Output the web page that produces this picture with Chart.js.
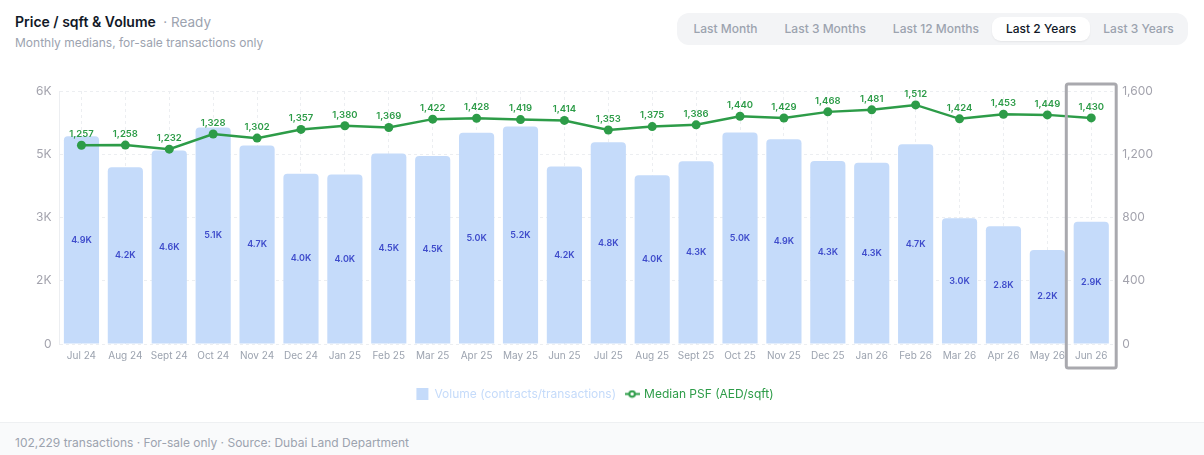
<!DOCTYPE html>
<html>
<head>
<meta charset="utf-8">
<title>Price / sqft & Volume</title>
<script src="https://cdn.jsdelivr.net/npm/chart.js@4.4.1/dist/chart.umd.min.js"></script>
<style>
  body {
    margin: 0;
    width: 1204px;
    height: 455px;
    position: relative;
    overflow: hidden;
    background: #fff;
    font-family: Inter, "Noto Sans", sans-serif;
  }
  .title {
    position: absolute;
    left: 15px;
    top: 13px;
    font-size: 14px;
    font-weight: 600;
    color: #111827;
  }
  .title span {
    font-weight: 400;
    font-size: 13.5px;
    color: #9ca3af;
    margin-left: 4px;
  }
  .subtitle {
    position: absolute;
    left: 15px;
    top: 35px;
    font-size: 12px;
    color: #9ca3af;
  }
  .tabs {
    position: absolute;
    left: 677px;
    top: 13px;
    height: 32px;
    width: 511px;
    box-sizing: border-box;
    padding: 4px 3px;
    display: flex;
    background: #f3f4f6;
    border-radius: 12px;
  }
  .tab {
    padding: 0 13.5px;
    line-height: 24px;
    font-size: 12px;
    font-weight: 500;
    color: #9ca3af;
    white-space: nowrap;
    border-radius: 9px;
  }
  .tab.active {
    background: #fff;
    color: #111827;
    box-shadow: 0 1px 2px rgba(0, 0, 0, 0.06);
  }
  .chart-box {
    position: absolute;
    left: 0;
    top: 70px;
    width: 1204px;
    height: 345px;
  }
  .footer {
    position: absolute;
    left: 0;
    top: 422px;
    width: 1204px;
    height: 33px;
    background: #f9fafb;
    border-top: 1px solid #eef0f2;
    box-sizing: border-box;
    padding-left: 15px;
    line-height: 40px;
    font-size: 12px;
    color: #9ca3af;
  }
</style>
</head>
<body>
  <div class="title">Price / sqft &amp; Volume <span>· Ready</span></div>
  <div class="subtitle">Monthly medians, for-sale transactions only</div>
  <div class="tabs">
    <div class="tab">Last Month</div>
    <div class="tab">Last 3 Months</div>
    <div class="tab">Last 12 Months</div>
    <div class="tab active">Last 2 Years</div>
    <div class="tab">Last 3 Years</div>
  </div>
  <div class="chart-box"><canvas id="psfChart"></canvas></div>
  <div class="footer">102,229 transactions · For-sale only · Source: Dubai Land Department</div>

<script>
// Data ---------------------------------- { Data }
const months = [
  "Jul 24", "Aug 24", "Sept 24", "Oct 24", "Nov 24", "Dec 24",
  "Jan 25", "Feb 25", "Mar 25", "Apr 25", "May 25", "Jun 25",
  "Jul 25", "Aug 25", "Sept 25", "Oct 25", "Nov 25", "Dec 25",
  "Jan 26", "Feb 26", "Mar 26", "Apr 26", "May 26", "Jun 26"
];
const volume = [
  4929, 4190, 4588, 5136, 4706, 4040,
  4017, 4517, 4460, 5007, 5159, 4207,
  4786, 4000, 4333, 5016, 4857, 4341,
  4298, 4738, 2980, 2794, 2230, 2900
];
const medianPsf = [
  1257, 1258, 1232, 1328, 1302, 1357,
  1380, 1369, 1422, 1428, 1419, 1414,
  1353, 1375, 1386, 1440, 1429, 1468,
  1481, 1512, 1424, 1453, 1449, 1430
];
const volumeTicks = [0, 1500, 3000, 4500, 6000];
const psfTicks = [0, 400, 800, 1200, 1600];

const barColor = "#c5dbfa";
const lineColor = "#2d9c48";
const gridColor = "#eceef1";

// Legend symbol for the line ---------------------------------- { Legend }
const lineSymbol = document.createElement("canvas");
lineSymbol.width = 15;
lineSymbol.height = 9;
const sctx = lineSymbol.getContext("2d");
sctx.strokeStyle = lineColor;
sctx.lineWidth = 2;
sctx.beginPath();
sctx.moveTo(0, 4.5);
sctx.lineTo(15, 4.5);
sctx.stroke();
sctx.fillStyle = "#fff";
sctx.beginPath();
sctx.arc(7.5, 4.5, 2.8, 0, Math.PI * 2);
sctx.fill();
sctx.stroke();

// Value labels ---------------------------------- { Labels }
const valueLabels = {
  id: "valueLabels",
  afterDatasetsDraw(chart) {
    const ctx = chart.ctx;
    ctx.save();
    ctx.textAlign = "center";
    ctx.textBaseline = "middle";
    // bar labels in the middle of each bar
    ctx.font = "600 9px Inter, sans-serif";
    ctx.fillStyle = "#3f4ccb";
    chart.getDatasetMeta(1).data.forEach((bar, i) => {
      const k = (volume[i] / 1000).toFixed(1) + "K";
      ctx.fillText(k, bar.x, (bar.y + bar.base) / 2);
    });
    // psf labels above points
    ctx.font = "600 9.5px Inter, sans-serif";
    ctx.fillStyle = lineColor;
    chart.getDatasetMeta(0).data.forEach((pt, i) => {
      ctx.fillText(medianPsf[i].toLocaleString("en-US"), pt.x, pt.y - 11);
    });
    ctx.restore();
  },
};

// Highlight current month ---------------------------------- { Highlight }
const highlightBox = {
  id: "highlightBox",
  afterDraw(chart) {
    const x = chart.scales.x;
    const area = chart.chartArea;
    const cx = x.getPixelForValue(months.length - 1);
    const half = x.width / months.length / 2 + 3;
    const top = area.top - 7;
    const bottom = area.bottom + 24;
    const ctx = chart.ctx;
    ctx.save();
    ctx.strokeStyle = "#a9a9ae";
    ctx.lineWidth = 3;
    ctx.beginPath();
    ctx.roundRect(cx - half, top, half * 2, bottom - top, 2);
    ctx.stroke();
    ctx.restore();
  },
};

const ctx = document.getElementById("psfChart").getContext("2d");
const psfChart = new Chart(ctx, {
  data: {
    labels: months,
    datasets: [
      {
        type: "line",
        label: "Median PSF (AED/sqft)",
        data: medianPsf,
        yAxisID: "y1",
        order: 0,
        borderColor: lineColor,
        backgroundColor: lineColor,
        borderWidth: 2.5,
        pointRadius: 4.5,
        pointHoverRadius: 4.5,
        pointBackgroundColor: lineColor,
        pointBorderWidth: 0,
        tension: 0,
      },
      {
        type: "bar",
        label: "Volume (contracts/transactions)",
        data: volume,
        yAxisID: "y",
        order: 1,
        backgroundColor: barColor,
        borderRadius: 4,
        borderSkipped: "bottom",
        categoryPercentage: 0.9,
        barPercentage: 0.89,
      },
    ],
  },
  options: {
    responsive: true,
    maintainAspectRatio: false,
    animation: false,
    layout: {
      padding: { top: 21, left: 28, right: 42, bottom: 5 },
    },
    scales: {
      x: {
        grid: { offset: false, color: gridColor, drawTicks: false },
        border: { display: false, dash: [3, 3] },
        ticks: {
          color: "#9ca3af",
          font: { size: 10, family: "Inter" },
          padding: 6,
          autoSkip: false,
          maxRotation: 0,
        },
        afterFit(scale) {
          scale.height = 34;
        },
      },
      y: {
        position: "left",
        min: 0,
        max: 6000,
        afterBuildTicks(scale) {
          scale.ticks = volumeTicks.map((v) => ({ value: v }));
        },
        ticks: {
          color: "#a3a3ad",
          font: { size: 12, family: "Inter" },
          padding: 8,
          callback: (v) => (v === 0 ? "0" : (v / 1000).toFixed(0) + "K"),
        },
        grid: { color: gridColor, drawTicks: false },
        border: { display: true, color: gridColor, dash: [3, 3] },
      },
      y1: {
        position: "right",
        min: 0,
        max: 1600,
        afterBuildTicks(scale) {
          scale.ticks = psfTicks.map((v) => ({ value: v }));
        },
        ticks: {
          color: "#a3a3ad",
          font: { size: 12, family: "Inter" },
          padding: 9,
          callback: (v) => v.toLocaleString("en-US"),
        },
        grid: { display: false, drawTicks: false },
        border: { display: false },
      },
    },
    plugins: {
      tooltip: { enabled: false },
      legend: {
        position: "bottom",
        reverse: true,
        labels: {
          usePointStyle: true,
          boxHeight: 12,
          padding: 10,
          font: { size: 12, family: "Inter" },
          generateLabels(chart) {
            return chart.data.datasets.map((ds, i) => ({
              text: ds.label,
              datasetIndex: i,
              fillStyle: ds.type === "bar" ? barColor : lineColor,
              strokeStyle: ds.type === "bar" ? barColor : lineColor,
              lineWidth: 0,
              fontColor: ds.type === "bar" ? barColor : lineColor,
              pointStyle: ds.type === "bar" ? "rect" : lineSymbol,
              hidden: false,
            }));
          },
        },
      },
    },
  },
  plugins: [valueLabels, highlightBox],
});
</script>
</body>
</html>
